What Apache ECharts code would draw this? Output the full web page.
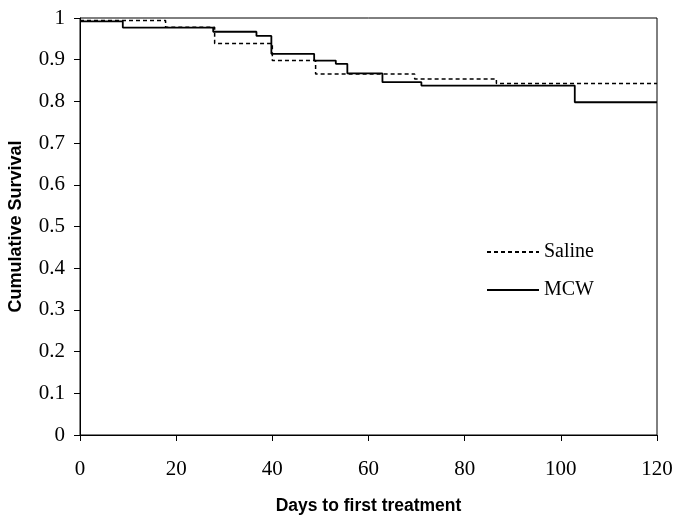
<!DOCTYPE html>
<html>
<head>
<meta charset="utf-8">
<script src="https://cdn.jsdelivr.net/npm/echarts@6/dist/echarts.min.js"></script>
<style>html,body{margin:0;padding:0;background:#fff}#c{width:677px;height:516px}</style>
</head>
<body>
<div id="c"></div>
<script>
const xTicks = [0, 20, 40, 60, 80, 100, 120];
const yTicks = [0, 0.1, 0.2, 0.3, 0.4, 0.5, 0.6, 0.7, 0.8, 0.9, 1];
const salineDays = [0, 17.8, 28, 40, 49, 69.6, 86.6, 120];
const salineSurv = [0.994, 0.978, 0.939, 0.898, 0.866, 0.854, 0.843, 0.843];
const mcwDays = [0, 8.9, 27.7, 36.7, 39.8, 48.7, 53.2, 55.6, 62.9, 71, 102.9, 120];
const mcwSurv = [0.992, 0.977, 0.967, 0.957, 0.914, 0.898, 0.89, 0.867, 0.846, 0.838, 0.798, 0.798];

const chart = echarts.init(document.getElementById('c'));
const serif = 'Liberation Serif';
chart.setOption({
  animation: false,
  grid: { left: 80, right: 20, top: 18, bottom: 81, show: true, borderColor: '#000', borderWidth: 1, outerBoundsMode: 'none', containLabel: false },
  legend: {
    orient: 'vertical', left: 481, top: 237, itemWidth: 52, itemHeight: 14, itemGap: 18,
    itemStyle: { opacity: 0, color: 'transparent', borderWidth: 0 },
    textStyle: { fontFamily: serif, fontSize: 20, color: '#000' },
    data: ['Saline', 'MCW']
  },
  xAxis: {
    type: 'value', min: 0, max: 120, interval: 20,
    name: 'Days to first treatment', nameLocation: 'middle', nameGap: 62,
    nameTextStyle: { fontFamily: 'Liberation Sans', fontWeight: 'bold', fontSize: 17.5, color: '#000' },
    axisLine: { lineStyle: { color: '#000', width: 1 } },
    axisTick: { show: true, length: 6, lineStyle: { color: '#000' } },
    axisLabel: { fontFamily: serif, fontSize: 21, color: '#000', margin: 24, formatter: v => xTicks.includes(v) ? String(v) : '' },
    splitLine: { show: false }
  },
  yAxis: {
    type: 'value', min: 0, max: 1, interval: 0.1,
    name: 'Cumulative Survival', nameLocation: 'middle', nameGap: 55, nameRotate: 90,
    nameTextStyle: { fontFamily: 'Liberation Sans', fontWeight: 'bold', fontSize: 18, color: '#000' },
    axisLine: { lineStyle: { color: '#000', width: 1 } },
    axisTick: { show: true, length: 6, lineStyle: { color: '#000' } },
    axisLabel: { fontFamily: serif, fontSize: 21, color: '#000', margin: 15,
      formatter: v => { const t = yTicks.find(k => Math.abs(k - v) < 1e-6); return t === undefined ? '' : String(t); } },
    splitLine: { show: false }
  },
  series: [
    { name: 'Saline', type: 'line', step: 'end', symbol: 'none',
      data: salineDays.map((d, i) => [d, salineSurv[i]]),
      lineStyle: { color: '#000', width: 1.5, type: [4, 3] }, itemStyle: { color: '#000' } },
    { name: 'MCW', type: 'line', step: 'end', symbol: 'none',
      data: mcwDays.map((d, i) => [d, mcwSurv[i]]),
      lineStyle: { color: '#000', width: 1.8, type: 'solid' }, itemStyle: { color: '#000' } }
  ]
});
</script>
</body>
</html>
